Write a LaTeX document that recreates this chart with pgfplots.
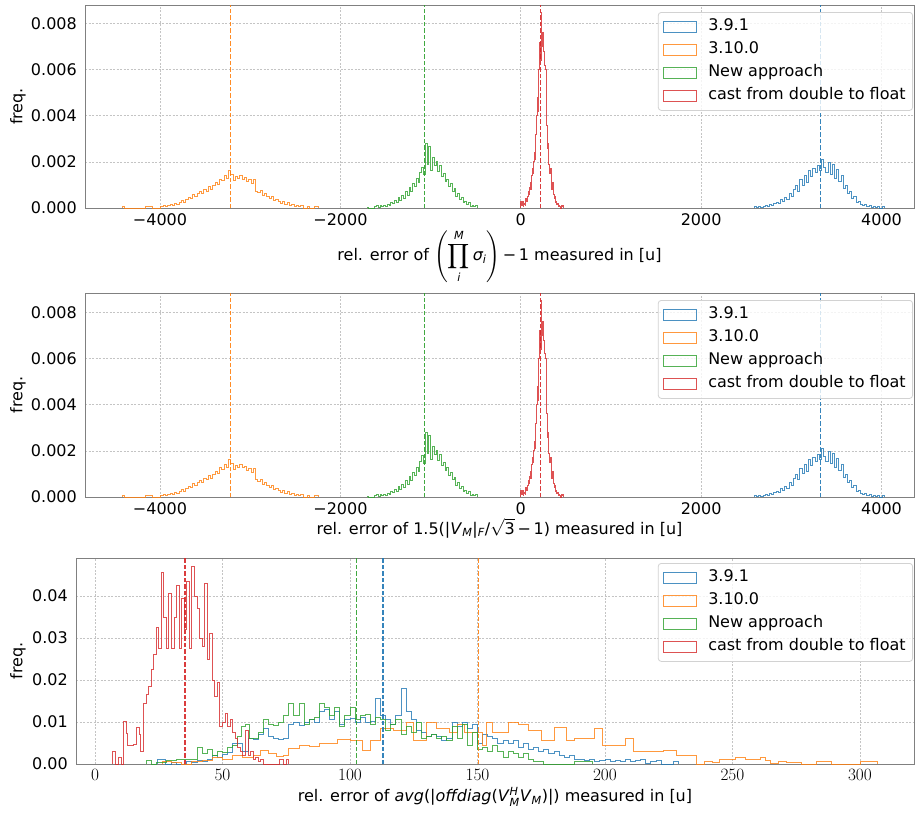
\documentclass[border=0pt]{standalone}
\usepackage{fontspec}
\setmainfont{DejaVu Sans}
\usepackage{amsmath}
\usepackage{pgfplots}
\usepackage{pgfplotstable}
\pgfplotsset{compat=1.18}
\definecolor{cA}{HTML}{1F77B4}
\definecolor{cB}{HTML}{FF7F0E}
\definecolor{cC}{HTML}{2CA02C}
\definecolor{cD}{HTML}{D62728}
\definecolor{spine}{HTML}{808080}
\definecolor{gridc}{HTML}{C4C4C4}

% top panels: bin start / height (last row closes the step)
\pgfplotstableread[row sep=\\]{
x y\\
-4420 0\\ -4420 0.6e-4\\ -4395 0\\ -4160 0.5e-4\\ -4085 0\\
-3990 0.8e-4\\ -3965 1.0e-4\\ -3940 0.6e-4\\ -3915 1.2e-4\\ -3890 1.6e-4\\
-3865 1.2e-4\\ -3840 2.0e-4\\ -3815 1.6e-4\\ -3790 2.6e-4\\ -3765 3.2e-4\\
-3740 2.5e-4\\ -3715 3.8e-4\\ -3690 4.6e-4\\ -3665 4.0e-4\\ -3640 6.0e-4\\
-3615 5.2e-4\\ -3590 6.4e-4\\ -3565 7.2e-4\\ -3540 6.2e-4\\ -3515 8.0e-4\\
-3490 7.4e-4\\ -3465 9.2e-4\\ -3440 8.2e-4\\ -3415 9.8e-4\\ -3390 11.2e-4\\
-3365 10.2e-4\\ -3340 12.6e-4\\ -3315 11.8e-4\\ -3290 14.0e-4\\ -3265 13.0e-4\\
-3240 16.2e-4\\ -3215 14.4e-4\\ -3190 12.0e-4\\ -3165 13.8e-4\\ -3140 12.8e-4\\
-3115 14.2e-4\\ -3090 12.6e-4\\ -3065 13.4e-4\\ -3040 11.6e-4\\ -3015 12.4e-4\\
-2990 10.8e-4\\ -2965 12.2e-4\\ -2940 7.4e-4\\ -2915 6.8e-4\\ -2890 7.6e-4\\
-2865 5.6e-4\\ -2840 6.2e-4\\ -2815 5.0e-4\\ -2790 4.2e-4\\ -2765 5.0e-4\\
-2740 3.4e-4\\ -2715 3.8e-4\\ -2690 2.8e-4\\ -2665 2.0e-4\\ -2640 3.0e-4\\
-2615 1.4e-4\\ -2590 2.2e-4\\ -2565 1.0e-4\\ -2540 1.6e-4\\ -2515 0.8e-4\\
-2490 1.2e-4\\ -2465 0.6e-4\\ -2440 1.0e-4\\ -2415 0\\ -2370 0.5e-4\\
-2340 0\\ -2290 0.5e-4\\ -2240 0\\
}\oraA

\pgfplotstableread[row sep=\\]{
x y\\
-1705 0\\ -1705 0.4e-4\\ -1685 0\\ -1620 0.5e-4\\ -1600 1.0e-4\\
-1580 0.4e-4\\ -1560 0.9e-4\\ -1540 0.6e-4\\ -1520 1.2e-4\\ -1500 0.8e-4\\
-1480 1.6e-4\\ -1460 1.2e-4\\ -1440 2.4e-4\\ -1420 1.8e-4\\ -1400 3.2e-4\\
-1380 2.6e-4\\ -1360 4.6e-4\\ -1340 3.4e-4\\ -1320 5.4e-4\\ -1300 4.0e-4\\
-1280 7.0e-4\\ -1260 5.6e-4\\ -1240 8.8e-4\\ -1220 7.2e-4\\ -1200 10.6e-4\\
-1180 9.4e-4\\ -1160 13.0e-4\\ -1140 11.2e-4\\ -1120 15.6e-4\\ -1100 17.8e-4\\
-1080 14.4e-4\\ -1060 28.0e-4\\ -1040 19.0e-4\\ -1020 26.6e-4\\ -1000 16.4e-4\\
-980 22.0e-4\\ -960 18.6e-4\\ -940 20.2e-4\\ -920 15.8e-4\\ -900 18.4e-4\\
-880 13.6e-4\\ -860 15.0e-4\\ -840 11.4e-4\\ -820 12.6e-4\\ -800 9.2e-4\\
-780 10.8e-4\\ -760 7.4e-4\\ -740 8.6e-4\\ -720 5.2e-4\\ -700 6.4e-4\\
-680 3.6e-4\\ -660 4.4e-4\\ -640 2.2e-4\\ -620 3.0e-4\\ -600 1.4e-4\\
-580 2.2e-4\\ -560 0.8e-4\\ -540 1.2e-4\\ -520 0.6e-4\\ -500 0.9e-4\\
-480 0\\
}\greA

\pgfplotstableread[row sep=\\]{
x y\\
0 0\\ 0 3e-4\\ 8 1e-4\\ 16 3e-4\\ 24 0.5e-4\\ 32 1.5e-4\\ 40 2e-4\\
48 1e-4\\ 56 4e-4\\ 64 3e-4\\ 72 5e-4\\ 80 7e-4\\ 88 6e-4\\ 96 9e-4\\
104 11e-4\\ 112 8e-4\\ 120 14e-4\\ 128 17e-4\\ 136 15e-4\\ 144 20e-4\\
152 24e-4\\ 160 21e-4\\ 168 32e-4\\ 176 40e-4\\ 184 48e-4\\ 192 42e-4\\
200 60e-4\\ 208 72e-4\\ 216 64e-4\\ 224 85e-4\\ 232 70e-4\\ 240 76e-4\\
248 70e-4\\ 256 68e-4\\ 264 62e-4\\ 272 60e-4\\ 280 45e-4\\ 288 36e-4\\
296 26e-4\\ 304 28e-4\\ 312 19e-4\\ 320 15e-4\\ 328 17e-4\\ 336 10e-4\\
344 8e-4\\ 352 11e-4\\ 360 6e-4\\ 368 4e-4\\ 376 5e-4\\ 384 2.5e-4\\
392 3e-4\\ 400 1.5e-4\\ 408 2e-4\\ 416 0.5e-4\\ 424 1e-4\\ 432 0.5e-4\\
440 0\\ 448 1e-4\\ 456 0.5e-4\\ 464 1e-4\\ 472 0\\
}\redA

\pgfplotstableread[row sep=\\]{
x y\\
2590 0\\ 2590 0.5e-4\\ 2614 0.3e-4\\ 2638 0.6e-4\\ 2662 0.2e-4\\ 2686 0.8e-4\\
2710 1.0e-4\\ 2734 0.6e-4\\ 2758 1.4e-4\\ 2782 1.0e-4\\ 2806 2.0e-4\\
2830 2.6e-4\\ 2854 1.8e-4\\ 2878 3.6e-4\\ 2902 2.8e-4\\ 2926 4.6e-4\\
2950 3.8e-4\\ 2974 6.2e-4\\ 2998 5.0e-4\\ 3022 8.0e-4\\ 3046 9.6e-4\\
3070 7.4e-4\\ 3094 12.2e-4\\ 3118 10.0e-4\\ 3142 14.0e-4\\ 3166 11.2e-4\\
3190 16.4e-4\\ 3214 13.6e-4\\ 3238 17.0e-4\\ 3262 15.4e-4\\ 3286 18.6e-4\\
3310 16.2e-4\\ 3334 21.0e-4\\ 3358 17.4e-4\\ 3382 15.6e-4\\ 3406 19.8e-4\\
3430 14.6e-4\\ 3454 19.0e-4\\ 3478 12.8e-4\\ 3502 16.6e-4\\ 3526 11.6e-4\\
3550 14.2e-4\\ 3574 8.4e-4\\ 3598 9.8e-4\\ 3622 6.2e-4\\ 3646 7.0e-4\\
3670 4.0e-4\\ 3694 4.8e-4\\ 3718 2.4e-4\\ 3742 2.8e-4\\ 3766 1.4e-4\\
3790 1.0e-4\\ 3814 1.6e-4\\ 3838 0.6e-4\\ 3862 1.0e-4\\ 3886 0.4e-4\\
3910 0.8e-4\\ 3934 0.3e-4\\ 3958 0.6e-4\\ 3982 0\\ 4006 0.5e-4\\ 4030 0\\
}\bluA

% bottom panel
\pgfplotstableread[row sep=\\]{
x y\\
24.5 0\\ 24.5 0.0012\\ 27.5 0\\ 30 0.0004\\ 32 0\\ 36 0.0005\\ 38 0.0003\\
40 0.0008\\ 42 0.0005\\ 44 0.0012\\ 46 0.0020\\ 48 0.0015\\ 50 0.0022\\
52 0.0028\\ 54 0.0050\\ 56 0.0048\\ 58 0.0030\\ 60 0.0060\\ 62 0.0058\\
64 0.0070\\ 66 0.0085\\ 68 0.0065\\ 70 0.0060\\ 72 0.0058\\ 74 0.0062\\
76 0.0095\\ 78 0.0100\\ 80 0.0092\\ 82 0.0100\\ 84 0.0105\\ 86 0.0098\\
88 0.0125\\ 90 0.0130\\ 92 0.0105\\ 94 0.0125\\ 96 0.0095\\ 98 0.0105\\
100 0.0108\\ 102 0.0100\\ 104 0.0110\\ 106 0.0100\\ 108 0.0102\\ 110 0.0155\\
112 0.0115\\ 114 0.0105\\ 116 0.0095\\ 118 0.0115\\ 120 0.0180\\ 122 0.0125\\
124 0.0105\\ 126 0.0080\\ 128 0.0075\\ 130 0.0065\\ 132 0.0070\\ 134 0.0065\\
136 0.0055\\ 138 0.0060\\ 140 0.0100\\ 142 0.0090\\ 144 0.0098\\ 146 0.0085\\
148 0.0095\\ 150 0.0050\\ 152 0.0070\\ 154 0.0065\\ 156 0.0060\\ 158 0.0050\\
160 0.0055\\ 162 0.0048\\ 164 0.0055\\ 166 0.0040\\ 168 0.0050\\ 170 0.0035\\
172 0.0040\\ 174 0.0030\\ 176 0.0035\\ 178 0.0025\\ 180 0.0030\\ 182 0.0020\\
184 0.0015\\ 186 0.0020\\ 188 0.0010\\ 190 0.0012\\ 192 0.0008\\ 194 0.0010\\
196 0.0005\\ 198 0.0008\\ 200 0.0010\\ 202 0.0005\\ 204 0.0008\\ 206 0.0005\\
208 0.0010\\ 210 0.0005\\ 212 0.0008\\ 214 0.0010\\ 216 0.0002\\ 218 0.0005\\
220 0.0008\\ 222 0\\ 227 0.0005\\ 229 0\\
}\bluB

\pgfplotstableread[row sep=\\]{
x y\\
26.5 0\\ 26.5 0.0005\\ 30 0.0003\\ 34 0\\ 38 0.0005\\ 42 0.0008\\ 46 0.0015\\
50 0.0012\\ 54 0.0020\\ 58 0.0015\\ 62 0.0020\\ 65 0.0032\\ 68 0.0025\\
71 0.0018\\ 74 0.0020\\ 76 0.0037\\ 80 0.0045\\ 84 0.0042\\ 88 0.0048\\
92 0.0050\\ 95 0.0058\\ 100 0.0055\\ 105 0.0032\\ 108 0.0055\\ 112 0.0085\\
117 0.0080\\ 122 0.0100\\ 125 0.0055\\ 130 0.0100\\ 134 0.0085\\ 139 0.0075\\
142 0.0095\\ 145 0.0075\\ 152 0.0045\\ 153.5 0.0100\\ 156 0.0075\\ 162 0.0100\\
166 0.0095\\ 170 0.0080\\ 175 0.0055\\ 180 0.0087\\ 185 0.0055\\ 188 0.0060\\
196 0.0085\\ 199 0.0045\\ 208 0.0062\\ 211 0.0030\\ 223 0.0032\\ 228 0.0020\\
236 0\\ 239 0.0007\\ 242 0.0003\\ 245 0.0012\\ 251 0.0015\\ 255 0.0012\\
261 0.0015\\ 263 0.0008\\ 265 0.0002\\ 268 0.0007\\ 271 0.0004\\ 277 0\\
283 0.0005\\ 289 0\\ 300 0.0005\\ 307 0\\
}\oraB

\pgfplotstableread[row sep=\\]{
x y\\
20 0\\ 20 0.0008\\ 22 0\\ 24 0.0004\\ 28 0.0008\\ 32 0.0010\\ 36 0.0012\\
38 0.0010\\ 40 0.0040\\ 42 0.0025\\ 44 0.0035\\ 46 0.0020\\ 48 0.0030\\
50 0.0028\\ 52 0.0040\\ 54 0.0045\\ 56 0.0065\\ 57.5 0.0090\\ 59 0.0095\\
60.5 0.0060\\ 62 0.0062\\ 64 0.0075\\ 66 0.0105\\ 68 0.0095\\ 70 0.0092\\
72 0.0098\\ 74 0.0115\\ 76 0.0145\\ 78 0.0115\\ 80 0.0145\\ 82 0.0095\\
84 0.0105\\ 86 0.0110\\ 88 0.0145\\ 90 0.0135\\ 92 0.0115\\ 94 0.0135\\
96 0.0090\\ 98 0.0115\\ 100 0.0135\\ 102 0.0105\\ 104 0.0115\\ 106 0.0118\\
108 0.0095\\ 110 0.0110\\ 112 0.0105\\ 114 0.0080\\ 116 0.0095\\ 118 0.0105\\
120 0.0070\\ 122 0.0090\\ 124 0.0075\\ 126 0.0100\\ 128 0.0060\\ 130 0.0065\\
132 0.0070\\ 134 0.0060\\ 136 0.0065\\ 138 0.0055\\ 140 0.0090\\ 142 0.0060\\
144 0.0095\\ 146 0.0045\\ 148 0.0075\\ 150 0.0035\\ 152 0.0040\\ 154 0.0030\\
156 0.0045\\ 158 0.0030\\ 160 0.0015\\ 162 0.0030\\ 164 0.0025\\ 166 0.0015\\
168 0.0025\\ 170 0.0010\\ 172 0.0005\\ 174 0.0007\\ 176 0\\ 188 0.0005\\ 195 0\\
}\greB

\pgfplotstableread[row sep=\\]{
x y\\
6.9 0\\ 6.9 0.0030\\ 8.2 0\\ 9.3 0.0015\\ 10.2 0\\ 11.2 0.0101\\ 12.2 0.0072\\
12.8 0.0045\\ 14 0.0045\\ 15 0.0047\\ 16.1 0.0088\\ 17.4 0.0070\\ 18 0.0030\\
19 0.0145\\ 20 0.0165\\ 21 0.0185\\ 22 0.0225\\ 23 0.0262\\ 24 0.0325\\
25 0.0275\\ 26 0.0455\\ 27 0.0350\\ 28 0.0275\\ 29 0.0405\\ 30 0.0275\\
31 0.0350\\ 32 0.0425\\ 33 0.0275\\ 34 0.0395\\ 35 0.0320\\ 36 0.0435\\
37 0.0275\\ 38 0.0470\\ 39 0.0400\\ 40 0.0370\\ 41 0.0300\\ 42 0.0280\\
43 0.0430\\ 44 0.0250\\ 45 0.0310\\ 46 0.0200\\ 47 0.0160\\ 48 0.0195\\
49 0.0090\\ 50 0.0100\\ 51 0.0120\\ 52 0.0090\\ 53 0.0105\\ 54 0.0075\\
55 0.0060\\ 56 0.0040\\ 57 0.0030\\ 58 0.0020\\ 59 0.0080\\ 60 0.0020\\
61 0.0030\\ 62 0.0010\\ 63 0.0015\\ 64 0.0005\\ 65 0.0010\\ 66 0\\
72.5 0.0010\\ 73.8 0\\ 75 0.0010\\ 76 0\\
}\redB

\pgfplotsset{
  histax/.style={
    scale only axis, anchor=north west,
    axis line style={spine, line width=1pt},
    grid=major,
    major grid style={gridc, line width=0.7pt, dash pattern=on 2pt off 1.5pt},
    major tick length=0pt,
    scaled y ticks=false, scaled x ticks=false,
    xticklabel style={inner sep=0pt, anchor=north, yshift=-5pt},
    yticklabel style={inner sep=0pt, anchor=east, xshift=-8pt},
    ylabel={freq.},
    ylabel style={inner sep=0pt, anchor=south, rotate=0},
    xlabel style={at={(axis description cs:0.5,0)}, inner sep=0pt, anchor=north},
    ymin=0, clip=true,
    legend cell align=left,
    legend image code/.code={\draw[##1, fill=none, line width=1pt, sharp corners] (0pt,-5.5pt) rectangle (33pt,5.5pt);},
    legend style={at={(1,1)}, anchor=north east, xshift=-1pt,
      draw=gray!35, line width=0.8pt, rounded corners=3pt,
      fill=white, fill opacity=0.8, text opacity=1,
      inner xsep=5pt, inner ysep=4.5pt, row sep=3pt, column sep=9pt,
      nodes={inner sep=2pt, text height=12pt, text depth=4pt}},
  },
  hist/.style={const plot, line width=0.9pt, opacity=0.8},
  meanline/.style={line width=1.3pt, dash pattern=on 4.5pt off 2pt, opacity=0.9, forget plot},
}

\begin{document}
\fontsize{16}{19}\selectfont
\begin{tikzpicture}
\useasboundingbox (0pt,0pt) rectangle (915pt,-817pt);

\begin{axis}[histax, at={(85pt,-5pt)}, width=829pt, height=203pt,
  xmin=-4832, xmax=4360, ymax=0.00881,
  xtick={-4000,-2000,0,2000,4000},
  xticklabels={−4000,−2000,0,2000,4000},
  ytick={0,0.002,0.004,0.006,0.008},
  yticklabels={0.000,0.002,0.004,0.006,0.008},
  ylabel style={at={(axis description cs:-0.0712,0.5)}},
  xlabel style={yshift=-21pt},
  xlabel={rel. error of $\displaystyle\left(\prod_{\textit{i}}^{\textit{M}}\textit{σ}_{\textit{i}}\right)$\,−\,1 measured in [u]},
  legend style={yshift=-7pt}]
\addplot[hist, cA] table {\bluA};
\addplot[hist, cB] table {\oraA};
\addplot[hist, cC] table {\greA};
\addplot[hist, cD] table {\redA};
\legend{3.9.1,3.10.0,New approach,cast from double to float}
\addplot[meanline, cB] coordinates {(-3215,0) (-3215,0.01)};
\addplot[meanline, cC] coordinates {(-1064,0) (-1064,0.01)};
\addplot[meanline, cD] coordinates {(218,0) (218,0.01)};
\addplot[meanline, cA] coordinates {(3320,0) (3320,0.01)};
\end{axis}

\begin{axis}[histax, at={(85pt,-293pt)}, width=829pt, height=204pt,
  xmin=-4832, xmax=4360, ymax=0.00884,
  xtick={-4000,-2000,0,2000,4000},
  xticklabels={−4000,−2000,0,2000,4000},
  ytick={0,0.002,0.004,0.006,0.008},
  yticklabels={0.000,0.002,0.004,0.006,0.008},
  ylabel style={at={(axis description cs:-0.0712,0.5)}},
  xlabel style={yshift=-21pt},
  xlabel={rel. error of 1.5(|\textit{V}\textsubscript{\textit{M}}|\textsubscript{\textit{F}}/$\sqrt{\text{3}}$\,−\,1) measured in [u]},
  legend style={yshift=-7pt}]
\addplot[hist, cA] table {\bluA};
\addplot[hist, cB] table {\oraA};
\addplot[hist, cC] table {\greA};
\addplot[hist, cD] table {\redA};
\legend{3.9.1,3.10.0,New approach,cast from double to float}
\addplot[meanline, cB] coordinates {(-3215,0) (-3215,0.01)};
\addplot[meanline, cC] coordinates {(-1064,0) (-1064,0.01)};
\addplot[meanline, cD] coordinates {(218,0) (218,0.01)};
\addplot[meanline, cA] coordinates {(3320,0) (3320,0.01)};
\end{axis}

\begin{axis}[histax, at={(76pt,-558pt)}, width=838pt, height=206pt,
  xmin=-7.45, xmax=321.2, ymax=0.04905,
  xtick={0,50,100,150,200,250,300},
  ytick={0,0.01,0.02,0.03,0.04},
  yticklabels={0.00,0.01,0.02,0.03,0.04},
  ylabel style={at={(axis description cs:-0.0597,0.5)}},
  xlabel style={yshift=-23pt},
  xlabel={rel. error of \textit{avg}(|\textit{offdiag}(\textit{V}$^{\textit{H}}_{\textit{M}}$\textit{V}\textsubscript{\textit{M}})|) measured in [u]},
  legend style={yshift=-5pt}]
\addplot[hist, cA] table {\bluB};
\addplot[hist, cB] table {\oraB};
\addplot[hist, cC] table {\greB};
\addplot[hist, cD] table {\redB};
\legend{3.9.1,3.10.0,New approach,cast from double to float}
\addplot[meanline, cD] coordinates {(35.3,0) (35.3,0.06)};
\addplot[meanline, cC] coordinates {(102.6,0) (102.6,0.06)};
\addplot[meanline, cA] coordinates {(113,0) (113,0.06)};
\addplot[meanline, cB] coordinates {(150.4,0) (150.4,0.06)};
\end{axis}
\end{tikzpicture}
\end{document}
